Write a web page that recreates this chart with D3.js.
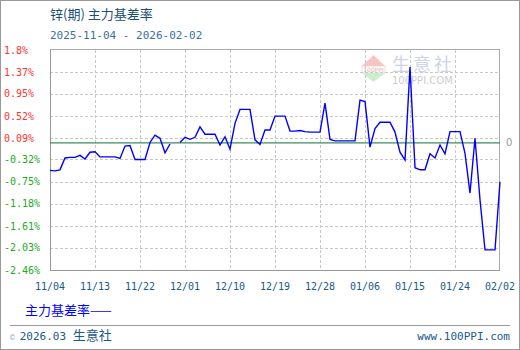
<!DOCTYPE html>
<html><head><meta charset="utf-8">
<script src="https://cdn.jsdelivr.net/npm/d3@7"></script>
<style>body{margin:0;background:#fff}svg{display:block}</style>
</head><body>
<script>
const title = "锌(期) 主力基差率";
const subtitle = "2025-11-04 - 2026-02-02";
const seriesName = "主力基差率";
const dates = [
"2025-11-04","2025-11-05","2025-11-06","2025-11-07","2025-11-08","2025-11-09","2025-11-10","2025-11-11","2025-11-12","2025-11-13",
"2025-11-14","2025-11-15","2025-11-16","2025-11-17","2025-11-18","2025-11-19","2025-11-20","2025-11-21","2025-11-22","2025-11-23",
"2025-11-24","2025-11-25","2025-11-26","2025-11-27","2025-11-28","2025-11-29","2025-11-30","2025-12-01","2025-12-02","2025-12-03",
"2025-12-04","2025-12-05","2025-12-06","2025-12-07","2025-12-08","2025-12-09","2025-12-10","2025-12-11","2025-12-12","2025-12-13",
"2025-12-14","2025-12-15","2025-12-16","2025-12-17","2025-12-18","2025-12-19","2025-12-20","2025-12-21","2025-12-22","2025-12-23",
"2025-12-24","2025-12-25","2025-12-26","2025-12-27","2025-12-28","2025-12-29","2025-12-30","2025-12-31","2026-01-01","2026-01-02",
"2026-01-03","2026-01-04","2026-01-05","2026-01-06","2026-01-07","2026-01-08","2026-01-09","2026-01-10","2026-01-11","2026-01-12",
"2026-01-13","2026-01-14","2026-01-15","2026-01-16","2026-01-17","2026-01-18","2026-01-19","2026-01-20","2026-01-21","2026-01-22",
"2026-01-23","2026-01-24","2026-01-25","2026-01-26","2026-01-27","2026-01-28","2026-01-29","2026-01-30","2026-01-31","2026-02-01",
"2026-02-02"];
const values = [
-0.53,-0.54,-0.52,-0.29,-0.28,-0.28,-0.24,-0.31,-0.18,-0.17,
-0.27,-0.27,-0.27,-0.27,-0.30,-0.06,-0.05,-0.32,-0.32,-0.32,
0.01,0.15,0.09,-0.19,-0.02,null,0.01,0.11,0.07,0.11,
0.31,0.17,0.17,0.17,-0.04,0.12,-0.12,0.38,0.65,0.65,
0.65,0.06,-0.03,0.25,0.25,0.52,0.52,0.52,0.23,0.23,
0.24,0.22,0.21,0.21,0.21,0.77,0.07,0.04,0.04,0.04,
0.04,0.04,0.83,0.80,-0.08,0.28,0.40,0.40,0.40,0.21,
-0.18,-0.33,1.47,-0.48,-0.52,-0.52,-0.21,-0.29,-0.04,-0.21,
0.22,0.22,0.22,-0.20,-0.97,0.09,-1.10,-2.07,-2.07,-2.07,
-0.75];
const yTicks = [1.8,1.37,0.95,0.52,0.09,-0.32,-0.75,-1.18,-1.61,-2.03,-2.46];
const yTickLabels = ["1.8%","1.37%","0.95%","0.52%","0.09%","-0.32%","-0.75%","-1.18%","-1.61%","-2.03%","-2.46%"];
const xTickDates = ["2025-11-04","2025-11-13","2025-11-22","2025-12-01","2025-12-10","2025-12-19","2025-12-28","2026-01-06","2026-01-15","2026-01-24","2026-02-02"];
const xTickLabels = ["11/04","11/13","11/22","12/01","12/10","12/19","12/28","01/06","01/15","01/24","02/02"];

const W = 520, H = 350;
const L = 50, R = 500, T = 50, B = 270;
const parse = d3.timeParse("%Y-%m-%d");
const data = dates.map((d,i)=>({date: parse(d), v: values[i]}));

const x = d3.scaleTime().domain([parse(dates[0]), parse(dates[dates.length-1])]).range([L, R]);
const y = d3.scaleLinear().domain([-2.46, 1.8]).range([B, T]);

const svg = d3.select("body").append("svg").attr("width", W).attr("height", H);
svg.append("rect").attr("x",0.5).attr("y",0.5).attr("width",W-1).attr("height",H-1).attr("fill","#fff").attr("stroke","#999");

const mono = "'DejaVu Sans Mono', 'Liberation Mono', monospace";
const cjk = "'Noto Sans CJK SC', 'Noto Sans', sans-serif";

svg.append("text").attr("x",50).attr("y",19).attr("font-family",cjk).attr("font-size",13).attr("fill","#1b4f72").text(title);
svg.append("text").attr("x",50).attr("y",39).attr("font-family",mono).attr("font-size",11).attr("fill","#3a72a0").text(subtitle);

// watermark
const wm = svg.append("g").attr("opacity",0.6);
wm.append("path").attr("d","M362,66 L373.5,55 L385,66 Z").attr("fill","#f4a0a0");
wm.append("rect").attr("x",362).attr("y",66).attr("width",23).attr("height",7).attr("fill","#fff").attr("stroke","#d99").attr("stroke-width",0.5);
wm.append("text").attr("x",373.5).attr("y",72).attr("text-anchor","middle").attr("font-family","DejaVu Sans").attr("font-size",6).attr("fill","#c77").text("100PPI");
wm.append("path").attr("d","M362,73 L385,73 L373.5,82 Z").attr("fill","#a8e4a8");
wm.append("text").attr("x",392).attr("y",71).attr("font-family",cjk).attr("font-size",18).attr("letter-spacing",3).attr("fill","#b0b8dc").text("生意社");
wm.append("text").attr("x",392).attr("y",84).attr("font-family","DejaVu Sans").attr("font-size",10).attr("fill","#aaa").text("100PPI.COM");

// grid
const grid = svg.append("g").attr("stroke","#c8c8c8").attr("stroke-dasharray","3,2").attr("shape-rendering","crispEdges");
yTicks.slice(1, -1).forEach(t=>{
  grid.append("line").attr("x1",L).attr("x2",R).attr("y1",Math.round(y(t))+0.5).attr("y2",Math.round(y(t))+0.5);
});
xTickDates.slice(1, -1).forEach(d=>{
  const px = Math.round(x(parse(d)))+0.5;
  grid.append("line").attr("x1",px).attr("x2",px).attr("y1",T).attr("y2",B);
});

// frame
svg.append("rect").attr("x",L+0.5).attr("y",T-0.5).attr("width",R-L-1).attr("height",B-T+1)
  .attr("fill","none").attr("stroke","#aaa").attr("shape-rendering","crispEdges");
svg.append("path").attr("d",`M${L+0.5},${T-0.5} V${B+0.5} H${R}`).attr("fill","none").attr("stroke","#999").attr("stroke-width",1.2).attr("shape-rendering","crispEdges");

// zero line
svg.append("line").attr("x1",L).attr("x2",R).attr("y1",y(0)).attr("y2",y(0)).attr("stroke","#3c8c5c").attr("stroke-width",1.2);
svg.append("text").attr("x",506).attr("y",y(0)+3).attr("font-family","DejaVu Sans").attr("font-size",10).attr("fill","#999").text("0");

// y labels
yTicks.forEach((t,i)=>{
  svg.append("text").attr("x",4).attr("y",y(t)+3.5).attr("font-family",mono).attr("font-size",10)
    .attr("fill", t>0 ? "#ff3333" : "#22aa22").text(yTickLabels[i]);
});
// x labels
xTickDates.forEach((d,i)=>{
  svg.append("text").attr("x",x(parse(d))).attr("y",290).attr("text-anchor","middle").attr("font-family",mono).attr("font-size",10)
    .attr("fill","#1a5a8a").text(xTickLabels[i]);
});

// series line
const line = d3.line().defined(d=>d.v!==null).x(d=>x(d.date)).y(d=>y(d.v));
svg.append("path").datum(data).attr("d",line).attr("fill","none").attr("stroke","#0000ff").attr("stroke-width",1.4);

// legend
svg.append("text").attr("x",25).attr("y",315).attr("font-family",cjk).attr("font-size",13).attr("fill","#0000ff").text(seriesName + "——");

// footer
svg.append("line").attr("x1",10).attr("x2",510).attr("y1",325.5).attr("y2",325.5).attr("stroke","#999");
const ft = svg.append("text").attr("x",10).attr("y",340).attr("fill","#1a5a8a");
ft.append("tspan").attr("font-family",mono).attr("font-size",8).attr("fill","#8ab").text("© ");
ft.append("tspan").attr("font-family",mono).attr("font-size",11).text("2026.03 ");
ft.append("tspan").attr("font-family",cjk).attr("font-size",13).text("生意社");
svg.append("text").attr("x",510).attr("y",340).attr("text-anchor","end").attr("font-family",mono).attr("font-size",11).attr("fill","#1a5a8a").text("www.100PPI.com");
</script>
</body></html>
